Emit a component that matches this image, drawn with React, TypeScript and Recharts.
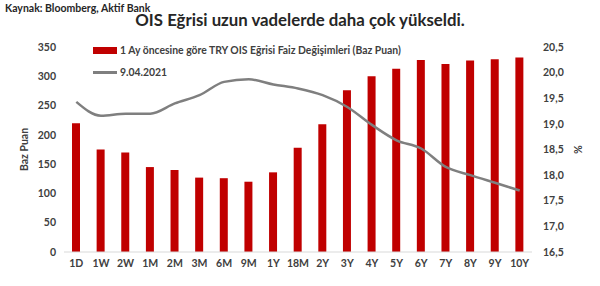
import { Bar, ComposedChart, Line, XAxis, YAxis } from "recharts";

const tenors = ["1D", "1W", "2W", "1M", "2M", "3M", "6M", "9M", "1Y", "18M", "2Y", "3Y", "4Y", "5Y", "6Y", "7Y", "8Y", "9Y", "10Y"];
const changeBp = [220, 175, 170, 145, 140, 127, 126, 120, 136, 178, 218, 276, 300, 313, 328, 321, 327, 329, 332];
const rate0904 = [19.43, 19.16, 19.2, 19.2, 19.4, 19.56, 19.82, 19.87, 19.77, 19.69, 19.56, 19.33, 18.98, 18.68, 18.52, 18.16, 18.0, 17.85, 17.7];
const leftTicks = [0, 50, 100, 150, 200, 250, 300, 350];
const rightTicks = [16.5, 17, 17.5, 18, 18.5, 19, 19.5, 20, 20.5];

const RED = "#C00000";
const GREY = "#7F7F7F";
const INK = "#404040";
const FONT = "Lato, 'Open Sans', sans-serif";
const TICK = { fontSize: 10.5, fill: INK, fontWeight: 700, fontFamily: FONT };

const data = tenors.map((t, i) => ({ tenor: t, bp: changeBp[i], rate: rate0904[i] }));

function LegendBox() {
  const row = { display: "flex", alignItems: "center", gap: 3, height: 22 } as const;
  return (
    <div style={{ position: "absolute", left: 93, top: 39, zIndex: 2, fontSize: 10.4, fontWeight: 700, color: INK, whiteSpace: "nowrap" }}>
      <div style={row}>
        <span style={{ display: "inline-block", width: 24, height: 7, background: RED }} />
        1 Ay öncesine göre TRY OIS Eğrisi Faiz Değişimleri (Baz Puan)
      </div>
      <div style={row}>
        <span style={{ display: "inline-block", width: 24, height: 3, background: GREY }} />
        9.04.2021
      </div>
    </div>
  );
}

export default function App() {
  return (
    <div style={{ position: "absolute", left: 0, top: 0, width: 600, height: 286, background: "#fff", fontFamily: FONT }}>
      <div style={{ position: "absolute", left: 5, top: 2, fontSize: 10.5, fontWeight: 700, color: "#262626" }}>
        Kaynak: Bloomberg, Aktif Bank
      </div>
      <div style={{ position: "absolute", left: 0, width: 600, top: 9, textAlign: "center", fontSize: 16.8, fontWeight: 700, color: "#262626" }}>
        OIS Eğrisi uzun vadelerde daha çok yükseldi.
      </div>
      <LegendBox />
      <ComposedChart width={600} height={286} data={data} margin={{ top: 47, right: 0, left: 0, bottom: 0 }}>
        <XAxis dataKey="tenor" tick={TICK} tickLine={false} axisLine={{ stroke: "#D9D9D9" }} height={34} interval={0} />
        <YAxis
          yAxisId="l"
          domain={[0, 350]}
          ticks={leftTicks}
          tick={TICK}
          axisLine={false}
          tickLine={false}
          width={64}
          label={{ value: "Baz Puan", angle: -90, position: "insideLeft", offset: 24, style: { ...TICK, textAnchor: "middle" } }}
        />
        <YAxis
          yAxisId="r"
          orientation="right"
          domain={[16.5, 20.5]}
          ticks={rightTicks}
          tickFormatter={(v: number) => v.toFixed(1).replace(".", ",")}
          tick={TICK}
          axisLine={false}
          tickLine={false}
          tickMargin={5}
          width={68}
          label={{ value: "%", angle: 90, position: "insideRight", offset: 22, style: { ...TICK, textAnchor: "middle" } }}
        />
        <Bar yAxisId="l" dataKey="bp" fill={RED} barSize={8} isAnimationActive={false} />
        <Line yAxisId="r" type="monotone" dataKey="rate" stroke={GREY} strokeWidth={2.5} dot={false} isAnimationActive={false} />
      </ComposedChart>
    </div>
  );
}
